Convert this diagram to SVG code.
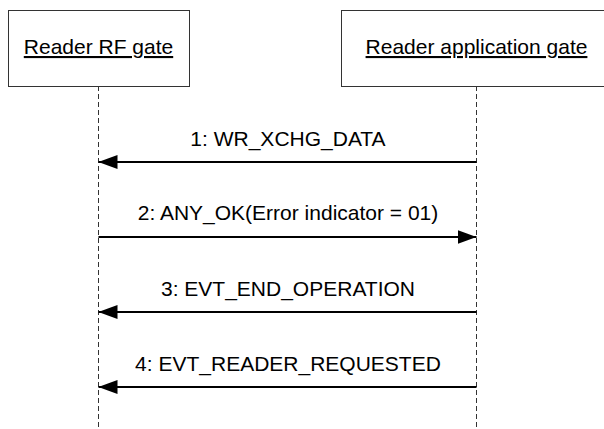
<svg xmlns="http://www.w3.org/2000/svg" width="604" height="429" viewBox="0 0 604 429">
<style>
.box{fill:#fff;stroke:#333;stroke-width:1}
.lbl{font-family:"Liberation Sans",Arial,sans-serif;font-size:21px;fill:#000;text-anchor:middle}
.u{text-decoration:underline}
.life{stroke:#333;stroke-width:1;stroke-dasharray:5,3;fill:none}
.msg{stroke:#000;stroke-width:2;fill:none}
</style>
<defs>
<marker id="ah" viewBox="0 0 19 14" refX="19" refY="7" markerWidth="19" markerHeight="14" markerUnits="userSpaceOnUse" orient="auto">
<path d="M0,0 L19,7 L0,14 Z" fill="#000"/>
</marker>
</defs>
<rect width="604" height="429" fill="#fff"/>
<g id="lifelines">
<line class="life" x1="98.5" y1="86" x2="98.5" y2="429"/>
<line class="life" x1="476.5" y1="86" x2="476.5" y2="429"/>
</g>
<g id="node-reader-rf-gate">
<rect class="box" x="8.5" y="10.5" width="181" height="76"/>
<text class="lbl u" x="98.5" y="54">Reader RF gate</text>
</g>
<g id="node-reader-application-gate">
<rect class="box" x="341.5" y="10.5" width="280" height="76"/>
<text class="lbl u" x="476.5" y="54">Reader application gate</text>
</g>
<g id="connectors">
<line class="msg" x1="476.5" y1="162" x2="98.5" y2="162" marker-end="url(#ah)"/>
<text class="lbl" x="288" y="146">1: WR_XCHG_DATA</text>
<line class="msg" x1="98.5" y1="237" x2="476.5" y2="237" marker-end="url(#ah)"/>
<text class="lbl" x="288" y="220">2: ANY_OK(Error indicator = 01)</text>
<line class="msg" x1="476.5" y1="312" x2="98.5" y2="312" marker-end="url(#ah)"/>
<text class="lbl" x="288" y="296">3: EVT_END_OPERATION</text>
<line class="msg" x1="476.5" y1="387" x2="98.5" y2="387" marker-end="url(#ah)"/>
<text class="lbl" x="288" y="371">4: EVT_READER_REQUESTED</text>
</g>
</svg>
